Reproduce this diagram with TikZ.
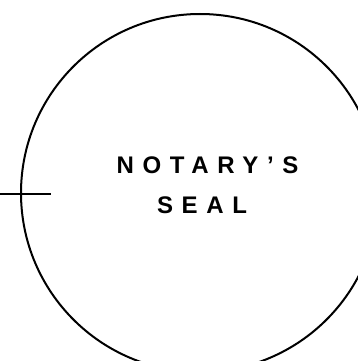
\documentclass[tikz,border=0pt]{standalone}
\usepackage{fontspec}
\setmainfont{Liberation Sans}
\begin{document}
\begin{tikzpicture}[x=1pt,y=1pt,
  seal/.style={draw=black,line width=2pt},
  lbl/.style={font=\fontsize{24}{28}\selectfont\bfseries\addfontfeature{LetterSpace=36},inner sep=0pt,anchor=center}]
\useasboundingbox (0,0) rectangle (357,-361);
\node[circle,seal,minimum size=358pt,inner sep=0pt] (c) at (200,-193) {};
\coordinate (l0) at (0,-194);
\coordinate (l1) at (51,-194);
\draw[line width=1.8pt] (l0) -- (l1);
\node[lbl] (t1) at (207.5,-165) {NOTARY'S};
\node[lbl] (t2) at (202,-205) {SEAL};
\end{tikzpicture}
\end{document}
